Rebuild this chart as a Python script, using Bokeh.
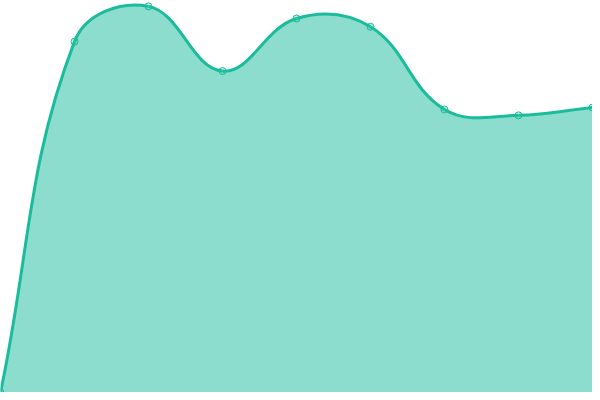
import numpy as np
from bokeh.plotting import figure
from bokeh.models import Range1d
from bokeh.embed import file_html
from bokeh.resources import INLINE

# ---- data ----
x_index = [0, 1, 2, 3, 4, 5, 6, 7, 8]
values = [0.0, 89.5, 98.5, 82.0, 95.4, 93.3, 72.2, 70.7, 72.7]
y_min, y_max = 0.0, 100.0
tension = 0.4

line_color = "#1abc9c"
fill_color = "#1abc9c"

# figure fits the 600x400 window with its 8px page margin
W, H = 592, 392
sx = W / (x_index[-1] - x_index[0])
sy = H / (y_max - y_min)

# ---- spline control points (Chart.js-like, computed in pixel space) ----
px = (np.array(x_index, float) - x_index[0]) * sx
py = (np.array(values, float) - y_min) * sy
n = len(px)
cpp = np.zeros((n, 2))
cpn = np.zeros((n, 2))
for i in range(n):
    a = i - 1 if i > 0 else i
    b = i + 1 if i < n - 1 else i
    d01 = np.hypot(px[i] - px[a], py[i] - py[a])
    d12 = np.hypot(px[b] - px[i], py[b] - py[i])
    tot = d01 + d12
    s01 = d01 / tot if tot > 0 else 0.0
    s12 = d12 / tot if tot > 0 else 0.0
    fa, fb = tension * s01, tension * s12
    dx, dy = px[b] - px[a], py[b] - py[a]
    cpp[i] = (px[i] - fa * dx, py[i] - fa * dy)
    cpn[i] = (px[i] + fb * dx, py[i] + fb * dy)
cpp[:, 0] = np.clip(cpp[:, 0], 0, W)
cpn[:, 0] = np.clip(cpn[:, 0], 0, W)
cpp[:, 1] = np.clip(cpp[:, 1], 0, H)
cpn[:, 1] = np.clip(cpn[:, 1], 0, H)

def to_x(v):
    return v / sx + x_index[0]

def to_y(v):
    return v / sy + y_min

x0 = [to_x(v) for v in px[:-1]]
y0 = [to_y(v) for v in py[:-1]]
x1 = [to_x(v) for v in px[1:]]
y1 = [to_y(v) for v in py[1:]]
cx0 = [to_x(v) for v in cpn[:-1, 0]]
cy0 = [to_y(v) for v in cpn[:-1, 1]]
cx1 = [to_x(v) for v in cpp[1:, 0]]
cy1 = [to_y(v) for v in cpp[1:, 1]]

# sampled outline of the curve for the filled area
t = np.linspace(0, 1, 41)
fx, fy = [], []
for k in range(n - 1):
    p0 = np.array([x0[k], y0[k]]); p1 = np.array([cx0[k], cy0[k]])
    p2 = np.array([cx1[k], cy1[k]]); p3 = np.array([x1[k], y1[k]])
    pts = (((1 - t) ** 3)[:, None] * p0 + (3 * (1 - t) ** 2 * t)[:, None] * p1
           + (3 * (1 - t) * t ** 2)[:, None] * p2 + (t ** 3)[:, None] * p3)
    fx.extend(pts[:, 0].tolist()); fy.extend(pts[:, 1].tolist())
fx += [x_index[-1], x_index[0]]
fy += [y_min, y_min]

# ---- figure ----
p = figure(width=W, height=H, output_backend="svg", toolbar_location=None,
           x_axis_type=None, y_axis_type=None, min_border=0,
           x_range=Range1d(x_index[0], x_index[-1]),
           y_range=Range1d(y_min, y_max))
p.outline_line_color = None
p.background_fill_color = "white"
p.border_fill_color = "white"

p.patch(fx, fy, fill_color=fill_color, fill_alpha=0.5, line_color=None)
p.bezier(x0=x0, y0=y0, x1=x1, y1=y1, cx0=cx0, cy0=cy0, cx1=cx1, cy1=cy1,
         line_color=line_color, line_width=3)
p.scatter(x_index, values, marker="circle", size=7, fill_color=fill_color,
          fill_alpha=0.2, line_color=line_color, line_width=1)

open("out.html", "w").write(file_html(p, INLINE))
